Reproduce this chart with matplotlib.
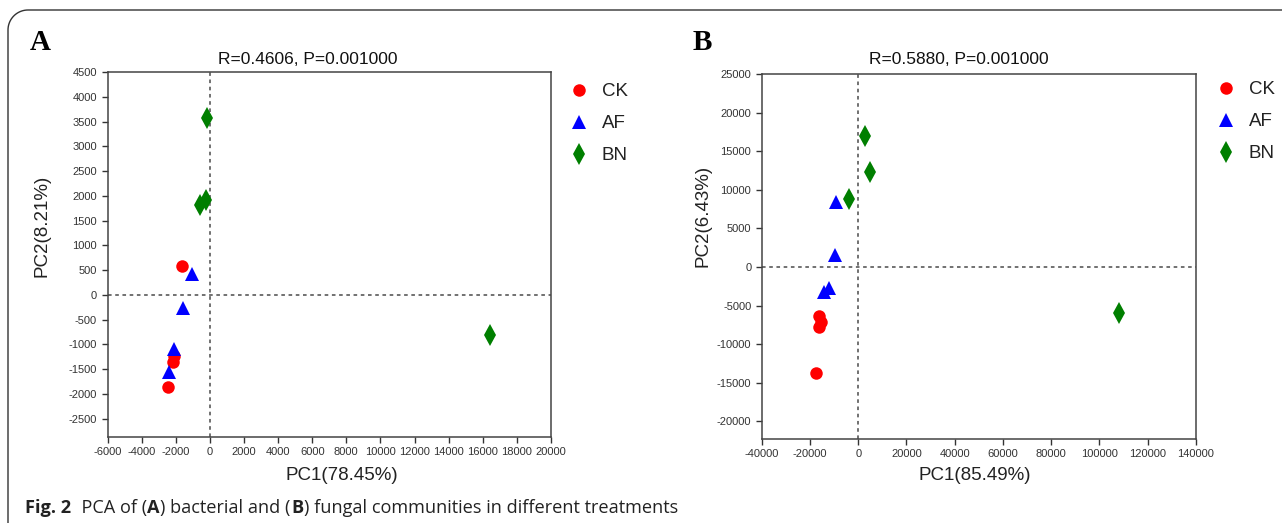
import numpy as np
import matplotlib
matplotlib.use('Agg')
import matplotlib.pyplot as plt
from matplotlib.path import Path
from matplotlib.patches import PathPatch

plt.rcParams['font.family'] = ['Liberation Sans', 'DejaVu Sans']
plt.rcParams['axes.unicode_minus'] = False

W, H = 1282, 523

groups = ['CK', 'AF', 'BN']
colors = ['#ff0000', '#0000ff', '#007f00']
markers = ['o', '^', 'd']
msizes = [9, 10, 11]

# panel A: bacterial PCA
a_ck_x = [-1630, -2100, -2180, -2450]
a_ck_y = [590, -1230, -1360, -1860]
a_af_x = [-1020, -1590, -2080, -2410]
a_af_y = [430, -275, -1100, -1560]
a_bn_x = [-180, -200, -550, 16400]
a_bn_y = [3570, 1910, 1810, -810]

# panel B: fungal PCA
b_ck_x = [-16200, -15500, -16200, -17700]
b_ck_y = [-6350, -7170, -7730, -13780]
b_af_x = [-9100, -9700, -12300, -14000]
b_af_y = [8400, 1500, -2750, -3300]
b_bn_x = [2900, 4700, -4000, 108000]
b_bn_y = [16970, 12260, 8770, -6000]

def fx(x):
    return x / W

def fy(y):
    return 1 - y / H

fig = plt.figure(figsize=(W / 100, H / 100), dpi=100)


def panel(rect, xs, ys, xlim, ylim, xticks, yticks, title, tx, xlabel, ylabel, xl_pos, yl_pos, leg_anchor):
    ax = fig.add_axes(rect)
    for gx, gy, c, m, ms, g in zip(xs, ys, colors, markers, msizes, groups):
        ax.plot(gx, gy, ls='none', marker=m, color=c, markersize=ms,
                markeredgewidth=0, label=g, zorder=3)
    ax.axhline(0, color='#666666', ls=(0, (2, 2)), lw=1.3, zorder=1)
    ax.axvline(0, color='#666666', ls=(0, (2, 2)), lw=1.3, zorder=1)
    ax.set_xlim(*xlim)
    ax.set_ylim(*ylim)
    ax.set_xticks(xticks)
    ax.set_yticks(yticks)
    ax.tick_params(direction='out', length=4, width=1, colors='#333333',
                   labelsize=8, labelcolor='#333333', top=False, right=False)
    for s in ax.spines.values():
        s.set_color('#444444')
        s.set_linewidth(1.1)
    fig.text(fx(tx), fy(60), title, ha='center', va='center', fontsize=12.5, color='#111111')
    fig.text(fx(xl_pos[0]), fy(xl_pos[1]), xlabel, ha='center', va='center', fontsize=13.5, color='#222222')
    fig.text(fx(yl_pos[0]), fy(yl_pos[1]), ylabel, ha='center', va='center', fontsize=13.5,
             color='#222222', rotation=90)
    leg = ax.legend(loc='upper left', bbox_to_anchor=leg_anchor, frameon=False,
                    fontsize=13.5, handlelength=1.0, handletextpad=0.7,
                    labelspacing=0.79, borderaxespad=0.2)
    for t in leg.get_texts():
        t.set_color('#222222')
    return ax


panel([fx(107.5), fy(437), fx(551) - fx(107.5), fy(72) - fy(437)],
      [a_ck_x, a_af_x, a_bn_x], [a_ck_y, a_af_y, a_bn_y],
      (-6000, 20000), (-2870, 4500),
      np.arange(-6000, 20001, 2000), np.arange(-2500, 4501, 500),
      'R=0.4606, P=0.001000', 308, 'PC1(78.45%)', 'PC2(8.21%)', (342, 476), (42, 226),
      (1.017, 1.0))

panel([fx(761.7), fy(439), fx(1196) - fx(761.7), fy(74) - fy(439)],
      [b_ck_x, b_af_x, b_bn_x], [b_ck_y, b_af_y, b_bn_y],
      (-40000, 140000), (-22300, 25000),
      np.arange(-40000, 140001, 20000), np.arange(-20000, 25001, 5000),
      'R=0.5880, P=0.001000', 959, 'PC1(85.49%)', 'PC2(6.43%)', (975, 476), (703, 216),
      (1.022, 1.011))

# panel letters
fig.text(fx(30), fy(42), 'A', fontsize=21, fontweight='bold', family='Liberation Serif',
         ha='left', va='center')
fig.text(fx(693), fy(42), 'B', fontsize=21, fontweight='bold', family='Liberation Serif',
         ha='left', va='center')

# rounded border (top and left edges)
r = 20
th = np.linspace(np.pi, np.pi / 2, 20)
px_ = np.concatenate([[8], 8 + r + r * np.cos(th), [W + 5]])
py_ = np.concatenate([[-5], (H - 10 - r) + r * np.sin(th), [H - 10]])
border = PathPatch(Path(np.column_stack([px_, py_])), fill=False, ec='#333333', lw=1.0,
                   transform=None)
fig.patches.append(border)

# caption with mixed bold pieces
pieces = [('Fig. 2', 'bold'), ('  PCA of (', 'normal'), ('A', 'bold'),
          (') bacterial and (', 'normal'), ('B', 'bold'),
          (') fungal communities in different treatments', 'normal')]
fig.canvas.draw()
rend = fig.canvas.get_renderer()
xpos = 25
for txt, wt in pieces:
    t = fig.text(fx(xpos), fy(508), txt, fontsize=13.1, fontweight=wt, family='Open Sans',
                 ha='left', va='center', color='#222222')
    bb = t.get_window_extent(renderer=rend)
    xpos += bb.width + 0.5

fig.savefig('out.png', dpi=100)
